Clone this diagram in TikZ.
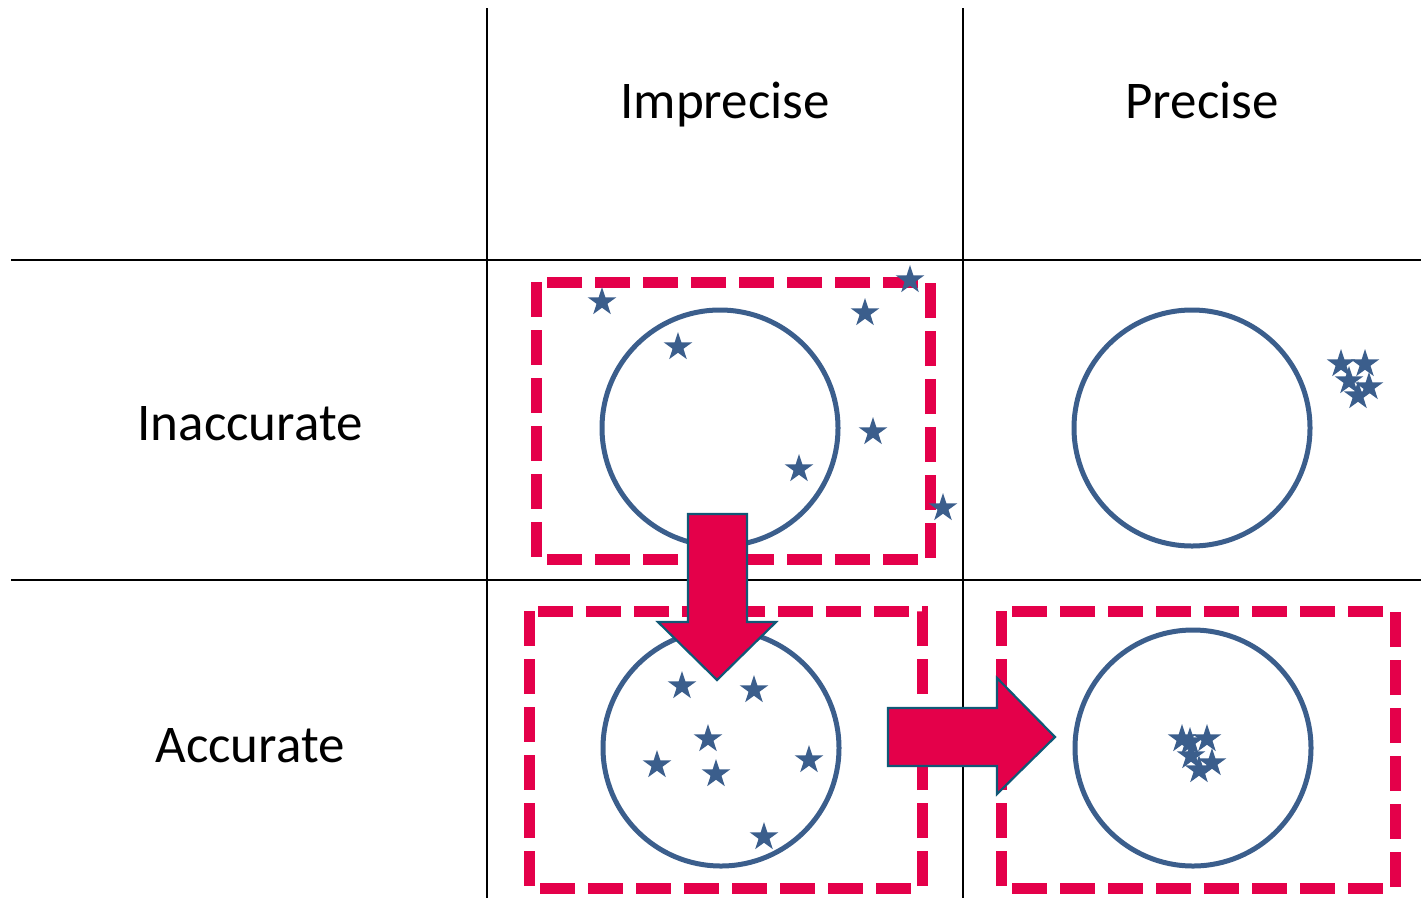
\documentclass[tikz,border=0pt]{standalone}
\usepackage{fontspec}
\setmainfont{Carlito}
\usetikzlibrary{shapes.geometric}
\definecolor{ringblue}{RGB}{59,94,140}
\definecolor{markred}{RGB}{228,0,74}
\definecolor{arrowedge}{RGB}{16,88,118}
\tikzset{
  gridline/.style={line width=2.7pt, black},
  ring/.style={draw=ringblue, line width=5pt, circle, minimum size=236pt, inner sep=0pt},
  hit/.style={star, star points=5, star point ratio=2.618, fill=ringblue, draw=none,
    minimum size=30pt, inner sep=0pt},
  frame/.style={draw=markred, line width=11pt, dash pattern=on 35pt off 13pt},
  bigarrow/.style={fill=markred, draw=arrowedge, line width=2.2pt, line join=miter},
  heading/.style={font=\fontsize{53}{62}\selectfont, inner sep=0pt, anchor=base}
}
\begin{document}
\begin{tikzpicture}[x=1pt,y=-1pt]
  \useasboundingbox (0,0) rectangle (1421,898);

  % table grid
  \coordinate (v1t) at (487,8);   \coordinate (v1b) at (487,898);
  \coordinate (v2t) at (963,8);   \coordinate (v2b) at (963,898);
  \coordinate (h1l) at (11,260);  \coordinate (h1r) at (1421,260);
  \coordinate (h2l) at (11,580);  \coordinate (h2r) at (1421,580);
  \draw[gridline] (v1t) -- (v1b);
  \draw[gridline] (v2t) -- (v2b);
  \draw[gridline] (h1l) -- (h1r);
  \draw[gridline] (h2l) -- (h2r);

  % headings
  \node[heading] (colA) at (725,118) {Imprecise};
  \node[heading] (colB) at (1202,118) {Precise};
  \node[heading] (rowA) at (250,440) {Inaccurate};
  \node[heading] (rowB) at (250,762) {Accurate};

  % targets
  \node[ring] (t11) at (720,428) {};
  \node[ring] (t12) at (1192,428) {};
  \node[ring] (t21) at (721,748) {};
  \node[ring] (t22) at (1193,748) {};

  % highlighted cells
  \draw[frame] (536,282) rectangle (930,559);
  \draw[frame] (529,611) rectangle (922,888);
  \draw[frame] (1001,611) rectangle (1395,888);

  % shots: inaccurate, imprecise
  \foreach \p [count=\i] in {(602,302),(678,347),(865,313),(910,280),(873,432),(799,469),(943,508)}
    \node[hit] (a\i) at \p {};
  % shots: inaccurate, precise
  \foreach \p [count=\i] in {(1341,364),(1365,364),(1349,381),(1369,387),(1358,396)}
    \node[hit] (b\i) at \p {};
  % shots: accurate, imprecise
  \foreach \p [count=\i] in {(682,686),(754,690),(708,739),(657,765),(716,774),(809,760),(764,837)}
    \node[hit] (c\i) at \p {};
  % shots: accurate, precise
  \foreach \p [count=\i] in {(1182,739),(1190,742),(1207,739),(1191,756),(1212,763),(1199,770)}
    \node[hit] (d\i) at \p {};

  % block arrows
  \draw[bigarrow] (688,514) -- (747,514) -- (747,622) -- (776,622) -- (717,680)
    -- (658,622) -- (688,622) -- cycle;
  \draw[bigarrow] (888,708) -- (997,708) -- (997,678) -- (1055,737) -- (997,794)
    -- (997,766) -- (888,766) -- cycle;
\end{tikzpicture}
\end{document}
